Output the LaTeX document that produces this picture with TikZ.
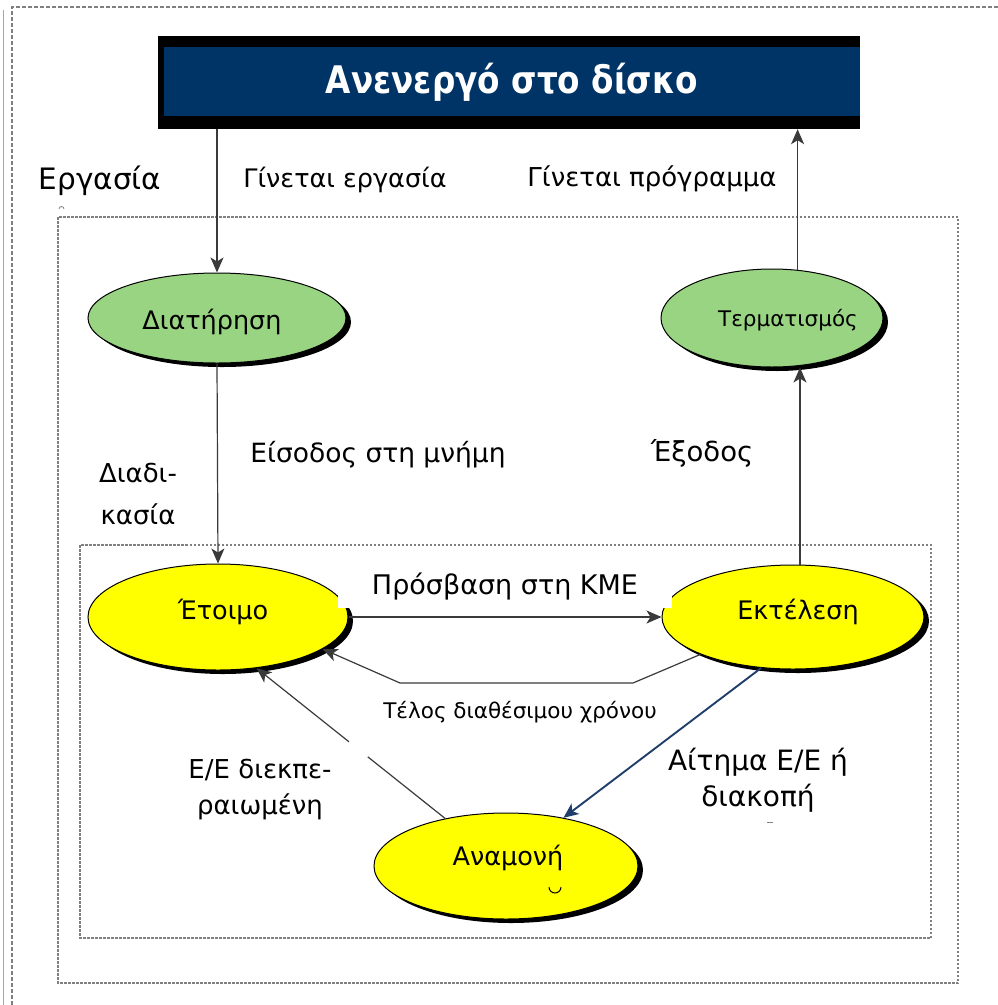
\documentclass[tikz,border=0pt]{standalone}
\usepackage{fontspec}
\setmainfont{DejaVu Sans}
\newfontfamily\bannerfont{DejaVu Sans}[FakeStretch=0.86]
\usetikzlibrary{arrows.meta,shapes.geometric,shadows,calc}

\definecolor{navybox}{HTML}{003366}
\definecolor{leafgreen}{HTML}{99D483}
\definecolor{stateyellow}{HTML}{FFFF00}
\definecolor{linegray}{HTML}{3A3A3A}
\definecolor{framegray}{HTML}{808080}
\definecolor{reqblue}{HTML}{1F3F6A}

\begin{document}
\begin{tikzpicture}[x=1pt,y=-1pt,
  state/.style={ellipse, draw=black, line width=1pt, inner sep=0pt,
    drop shadow={shadow xshift=5pt, shadow yshift=-4pt, opacity=1, fill=black}},
  greenstate/.style={state, fill=leafgreen},
  yellowstate/.style={state, fill=stateyellow},
  statetext/.style={font=\fontsize{25.5}{30}\selectfont, inner sep=0pt},
  lbl/.style={font=\fontsize{26}{36}\selectfont, align=center, inner sep=0pt},
  arr/.style={draw=linegray, line width=1.2pt,
    -{Stealth[length=15pt,width=13pt,inset=4pt]}},
  plainline/.style={draw=linegray, line width=1.2pt},
  bluearr/.style={draw=reqblue, line width=1.9pt,
    -{Stealth[length=15pt,width=13pt,inset=4pt]}},
  outerframe/.style={draw=framegray, line width=1.3pt, dash pattern=on 4pt off 2pt},
  innerframe/.style={draw=framegray, line width=1.3pt, dash pattern=on 2.5pt off 1.5pt}
]
\useasboundingbox (0,0) rectangle (998,1005);

% page frames
\draw[framegray!70, line width=0.8pt] (3,10) -- (3,1005);
\draw[outerframe] (998,7) -- (12,7) -- (12,1005);
\draw[innerframe] (58,217) rectangle (958,983);
\draw[innerframe] (80,545) rectangle (931,938);

% disk banner
\node[fill=black, minimum width=702pt, minimum height=93pt, inner sep=0pt] (disk) at (509,82.5) {};
\fill[navybox] (164,47) rectangle (860,116);
\node[font=\bannerfont\fontsize{38}{44}\selectfont\bfseries, text=white] (title) at (512,82) {Ανενεργό στο δίσκο};

% states
\node[greenstate, minimum width=258pt, minimum height=90pt] (diat) at (217,318) {};
\node[statetext] (diattext) at (212,322) {Διατήρηση};
\node[greenstate, minimum width=222pt, minimum height=98pt] (term) at (772,318) {};
\node[statetext, font=\fontsize{21.5}{26}\selectfont] (termtext) at (788,320) {Τερματισμός};
\node[yellowstate, minimum width=260pt, minimum height=106pt] (etoimo) at (218,617) {};
\node[statetext] (etoimotext) at (223,612) {Έτοιμο};
\node[yellowstate, minimum width=262pt, minimum height=104pt] (ekt) at (793,617) {};
\node[statetext] (ekttext) at (798,612) {Εκτέλεση};
\node[yellowstate, minimum width=264pt, minimum height=106pt] (anam) at (506,866) {};
\node[statetext] (anamtext) at (508,858) {Αναμονή};

% transitions
\draw[arr] (disk.south -| diat.north) -- (diat.north);
\draw[arr] (term.62) -- (term.62 |- disk.south);
\draw[arr] (diat.south) -- (etoimo.north);
\draw[arr] (ekt.north -| 800,0) -- (800,0 |- term.south);
\draw[arr] (etoimo.east) -- (ekt.west);

\coordinate (tbendA) at (633,683);
\coordinate (tbendB) at (400,683);
\draw[arr] (ekt.202) -- (tbendA) -- (tbendB) -- (etoimo.-17);

\coordinate (doneA) at ($(anam.142)!0.41!(etoimo.-53)$);
\coordinate (doneB) at ($(anam.142)!0.51!(etoimo.-53)$);
\draw[plainline] (anam.142) -- (doneA);
\draw[arr] (doneB) -- (etoimo.-53);

\draw[bluearr] (ekt.238) -- (anam.40);

% labels
\node[font=\fontsize{29.5}{34}\selectfont, inner sep=0pt] (ergasia) at (100,181) {Εργασία};
\node[lbl, font=\fontsize{25.5}{30}\selectfont] (ginerg) at (345,180) {Γίνεται εργασία};
\node[lbl] (ginprog) at (652,179) {Γίνεται πρόγραμμα};
\node[lbl, font=\fontsize{26.5}{34}\selectfont] (eisodos) at (378,455) {Είσοδος στη μνήμη};
\node[lbl, font=\fontsize{27.5}{32}\selectfont] (exodos) at (702,453) {Έξοδος};
\node[lbl, font=\fontsize{26}{42}\selectfont] (diadik) at (138,494) {Διαδι-\\κασία};
\node[lbl, font=\fontsize{27}{32}\selectfont, fill=white, minimum width=334pt, minimum height=43pt] (prosv) at (505,586.5) {Πρόσβαση στη ΚΜΕ};
\node[lbl, font=\fontsize{21.5}{26}\selectfont] (telos) at (520,712) {Τέλος διαθέσιμου χρόνου};
\node[lbl] (diekp) at (260,790) {Ε/Ε διεκπε-\\ραιωμένη};
\node[lbl, font=\fontsize{28}{36}\selectfont] (aitima) at (758,780) {Αίτημα Ε/Ε ή\\διακοπή};

% stray marks
\draw[black, line width=1pt] (561,887) arc (0:180:6);
\draw[gray, line width=1pt] (767,822) -- (773,822);
\draw[gray, line width=0.8pt] (59,209) arc (0:180:-2.5);
\end{tikzpicture}
\end{document}
